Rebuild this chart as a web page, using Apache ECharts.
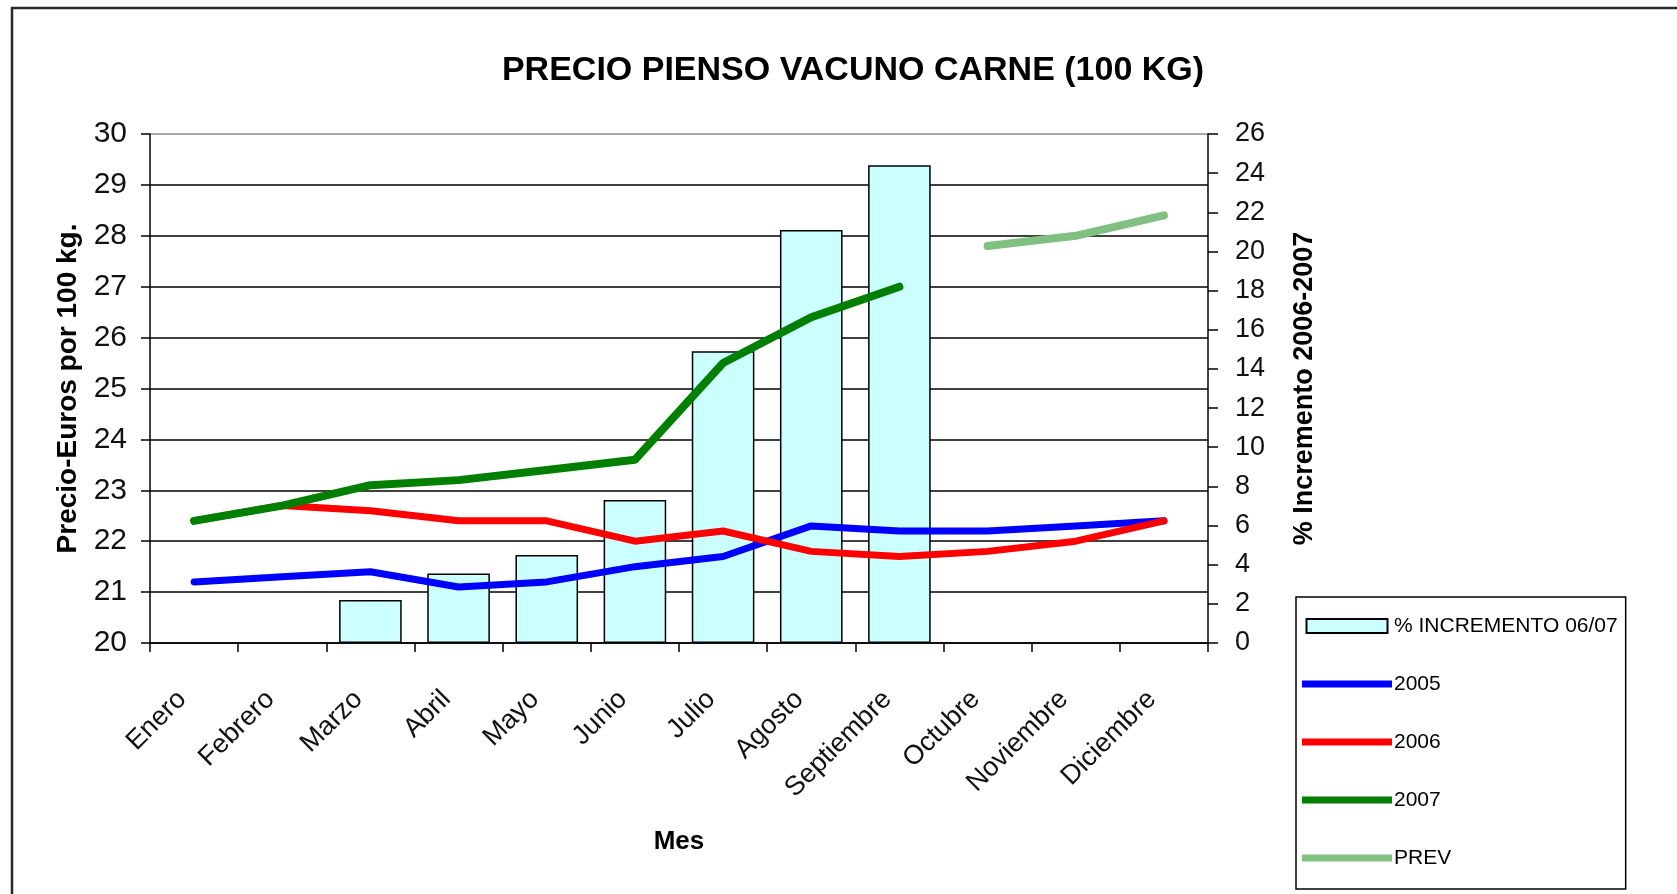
<!DOCTYPE html>
<html>
<head>
<meta charset="utf-8">
<script src="https://cdn.jsdelivr.net/npm/echarts@6/dist/echarts.min.js"></script>
<style>
html,body{margin:0;padding:0;background:#fff;}
#chart{width:1677px;height:894px;}
</style>
</head>
<body>
<div id="chart"></div>
<script>
// ---- data ----
const categories = ['Enero','Febrero','Marzo','Abril','Mayo','Junio','Julio','Agosto','Septiembre','Octubre','Noviembre','Diciembre'];
const incremento0607 = [null, null, 2.2, 3.55, 4.5, 7.3, 14.9, 21.1, 24.4, null, null, null];
const precio2005 = [21.2, 21.3, 21.4, 21.1, 21.2, 21.5, 21.7, 22.3, 22.2, 22.2, 22.3, 22.4];
const precio2006 = [22.4, 22.7, 22.6, 22.4, 22.4, 22.0, 22.2, 21.8, 21.7, 21.8, 22.0, 22.4];
const precio2007 = [22.4, 22.7, 23.1, 23.2, 23.4, 23.6, 25.5, 26.4, 27.0, null, null, null];
const prevision = [null, null, null, null, null, null, null, null, null, 27.8, 28.0, 28.4];
const leftTicks = {min: 20, max: 30, interval: 1};
const rightTicks = {min: 0, max: 26, interval: 2};
const seriesNames = ['% INCREMENTO 06/07', '2005', '2006', '2007', 'PREV'];

const FONT = '"Liberation Sans", Arial, sans-serif';
const chart = echarts.init(document.getElementById('chart'), null, {renderer: 'canvas'});

const splitColors = [];
for (let v = leftTicks.min; v <= leftTicks.max; v += leftTicks.interval) {
  splitColors.push(v === leftTicks.max ? '#8c8c8c' : '#000000');
}

function lineSeries(name, data, color, width) {
  return {
    name: name, type: 'line', yAxisIndex: 0, data: data,
    symbol: 'none', connectNulls: false,
    lineStyle: {color: color, width: width, cap: 'round', join: 'round'},
    itemStyle: {color: color},
    emphasis: {disabled: true}
  };
}

const LINE_ICON = 'path://M0,0L90,0L90,7L0,7Z';
const BAR_ICON = 'path://M0,0L81,0L81,14L0,14Z';

const option = {
  backgroundColor: '#ffffff',
  animation: false,
  textStyle: {fontFamily: FONT},
  title: {
    text: 'PRECIO PIENSO VACUNO CARNE (100 KG)',
    left: 848, top: 49, textAlign: 'center',
    textStyle: {fontFamily: FONT, fontWeight: 'bold', fontSize: 34, color: '#000'}
  },
  graphic: [{
    type: 'rect', silent: true, z: 100,
    shape: {x: 12, y: 8, width: 1720, height: 920},
    style: {fill: 'none', stroke: '#2a2a2a', lineWidth: 2.5}
  }],
  legend: {
    orient: 'vertical',
    left: 1296, top: 597,
    padding: [18, 8, 20, 6],
    borderColor: '#000', borderWidth: 1.5,
    itemWidth: 90, itemHeight: 14, itemGap: 36,
    symbolKeepAspect: true,
    textStyle: {fontFamily: FONT, fontSize: 21, lineHeight: 22, color: '#000', padding: [0,0,0,-3]},
    selectedMode: false,
    data: [
      {name: seriesNames[0], icon: BAR_ICON},
      {name: seriesNames[1], icon: LINE_ICON},
      {name: seriesNames[2], icon: LINE_ICON},
      {name: seriesNames[3], icon: LINE_ICON},
      {name: seriesNames[4], icon: LINE_ICON}
    ]
  },
  grid: {left: 150, right: 469, top: 134, bottom: 251, containLabel: false},
  xAxis: {
    type: 'category', data: categories, boundaryGap: true,
    name: 'Mes', nameLocation: 'middle', nameGap: 186,
    nameTextStyle: {fontFamily: FONT, fontWeight: 'bold', fontSize: 26, color: '#000'},
    axisLine: {show: true, lineStyle: {color: '#000', width: 1.5}},
    axisTick: {show: true, alignWithLabel: false, length: 9, lineStyle: {color: '#000', width: 1.5}},
    axisLabel: {rotate: 45, margin: 40, fontFamily: FONT, fontSize: 27, color: '#111', interval: 0, padding: [0, 17, 0, 0]},
    splitLine: {show: false}
  },
  yAxis: [{
    type: 'value', position: 'left',
    min: leftTicks.min, max: leftTicks.max, interval: leftTicks.interval,
    name: 'Precio-Euros por 100 kg.', nameLocation: 'middle', nameGap: 66, nameRotate: 90,
    nameTextStyle: {fontFamily: FONT, fontWeight: 'bold', fontSize: 28, color: '#000'},
    axisLine: {show: true, lineStyle: {color: '#000', width: 1.5}},
    axisTick: {show: true, inside: false, length: 9, lineStyle: {color: '#000', width: 1.5}},
    axisLabel: {margin: 23, fontFamily: FONT, fontSize: 30, color: '#111'},
    splitLine: {show: true, lineStyle: {color: splitColors, width: 1.5}}
  }, {
    type: 'value', position: 'right',
    min: rightTicks.min, max: rightTicks.max, interval: rightTicks.interval,
    name: '% Incremento 2006-2007', nameLocation: 'middle', nameGap: 83, nameRotate: 90,
    nameTextStyle: {fontFamily: FONT, fontWeight: 'bold', fontSize: 27, color: '#000'},
    axisLine: {show: true, lineStyle: {color: '#000', width: 1.5}},
    axisTick: {show: true, inside: false, length: 10, lineStyle: {color: '#000', width: 1.5}},
    axisLabel: {margin: 27, fontFamily: FONT, fontSize: 27, color: '#111'},
    splitLine: {show: false}
  }],
  series: [
    {
      name: seriesNames[0], type: 'bar', yAxisIndex: 1, data: incremento0607,
      barWidth: '71%',
      itemStyle: {color: '#CCFFFF', borderColor: '#000', borderWidth: 1.5},
      emphasis: {disabled: true}
    },
    lineSeries(seriesNames[1], precio2005, '#0000FF', 7),
    lineSeries(seriesNames[2], precio2006, '#FF0000', 7),
    lineSeries(seriesNames[3], precio2007, '#007F00', 8),
    lineSeries(seriesNames[4], prevision, '#80C080', 8)
  ]
};
chart.setOption(option);
</script>
</body>
</html>
